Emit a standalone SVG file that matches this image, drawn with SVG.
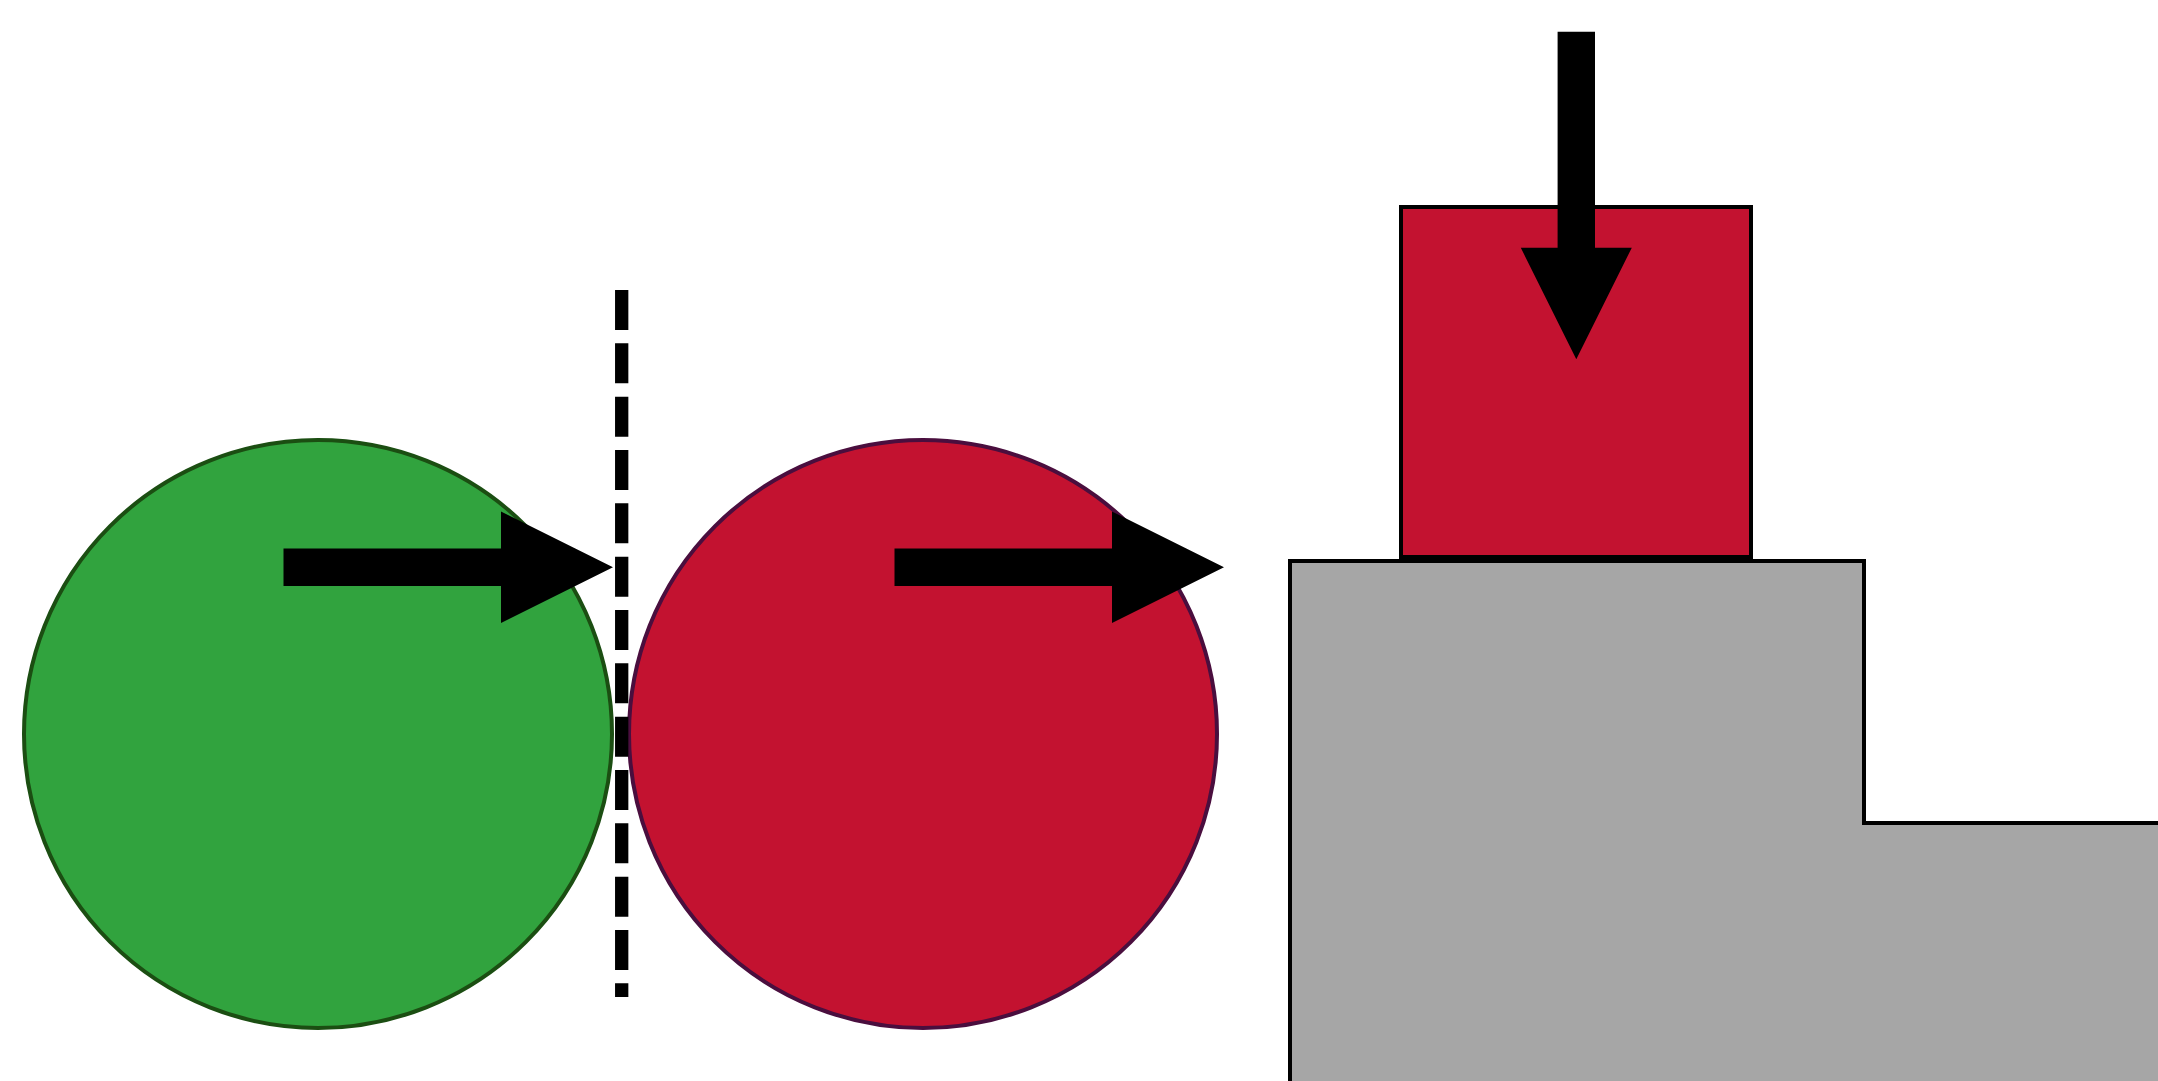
<svg xmlns="http://www.w3.org/2000/svg" width="2158" height="1081" viewBox="0 0 2158 1081">
<style>
.arrow{fill:#000;stroke:none}
.outline{stroke-width:4}
</style>
<rect x="0" y="0" width="2158" height="1081" fill="#fff"/>
<g id="ground">
<path d="M1290,1090 L1290,561 L1864,561 L1864,823 L2170,823 L2170,1090 Z" fill="#a6a6a6" stroke="#000" class="outline"/>
</g>
<g id="block">
<rect x="1401" y="207" width="350" height="350" fill="#c31230" stroke="#000" class="outline"/>
</g>
<g id="green-ball">
<circle cx="318" cy="734" r="294" fill="#31a33e" stroke="#1b4e12" class="outline"/>
</g>
<g id="red-ball">
<circle cx="923" cy="734" r="294" fill="#c31230" stroke="#4a0e3e" class="outline"/>
</g>
<g id="connectors">
<line x1="621.7" y1="290" x2="621.7" y2="997" stroke="#000" stroke-width="13.3" stroke-dasharray="40 13.33"/>
<path class="arrow" d="M283.5,548.6 L501,548.6 L501,511.5 L613,567.3 L501,623 L501,586 L283.5,586 Z"/>
<path class="arrow" d="M894.5,548.6 L1112,548.6 L1112,511.5 L1224,567.3 L1112,623 L1112,586 L894.5,586 Z"/>
<path class="arrow" d="M1557.6,31.7 L1595,31.7 L1595,247.7 L1631.8,247.7 L1576.3,359.3 L1520.8,247.7 L1557.6,247.7 Z"/>
</g>
</svg>
